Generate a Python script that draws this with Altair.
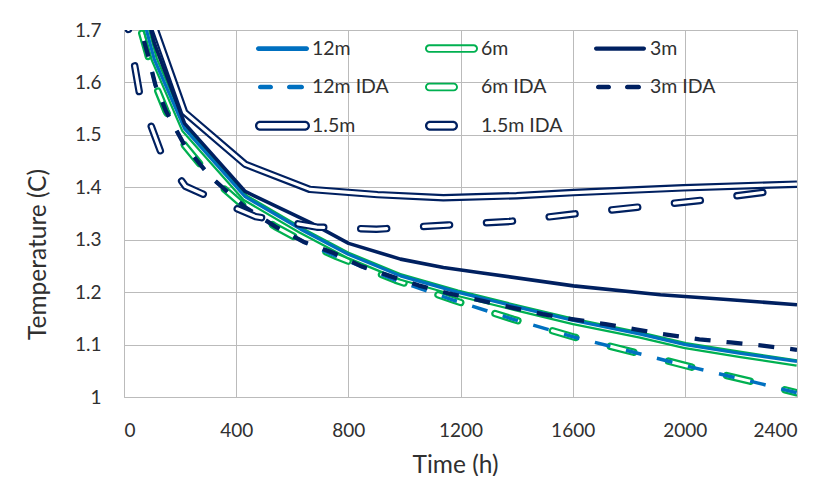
import altair as alt
import pandas as pd

# ---------------- data ----------------
series_names = ["12m", "6m", "3m", "12m IDA", "6m IDA", "3m IDA", "1.5m", "1.5m IDA"]
series_colors = ["#0070C0", "#00B050", "#002060", "#0070C0", "#00B050", "#002060", "#002060", "#002060"]

t_12m = [0, 108, 216, 432, 630, 800, 986, 1189, 1400, 1603, 1842, 2002, 2200, 2400]
v_12m = [1.86, 1.644, 1.512, 1.382, 1.320, 1.272, 1.231, 1.200, 1.172, 1.146, 1.120, 1.100, 1.083, 1.068]

t_6m = [0, 108, 216, 432, 630, 800, 986, 1189, 1400, 1603, 1842, 2002, 2200, 2400]
v_6m = [1.86, 1.644, 1.510, 1.380, 1.318, 1.270, 1.229, 1.198, 1.170, 1.144, 1.118, 1.098, 1.081, 1.065]

t_3m = [0, 108, 216, 432, 663, 801, 986, 1139, 1271, 1603, 1913, 2150, 2400]
v_3m = [1.91, 1.675, 1.522, 1.392, 1.333, 1.293, 1.263, 1.247, 1.237, 1.212, 1.195, 1.186, 1.176]

t_15m = [0, 216, 432, 663, 904, 1139, 1400, 1603, 1995, 2400]
v_15m = [1.87, 1.543, 1.444, 1.396, 1.386, 1.380, 1.384, 1.390, 1.399, 1.406]

t_12m_ida = [0, 30, 60, 84, 112, 150, 216, 308, 432, 540, 644, 758, 968, 1061, 1179, 1389, 1607, 1821, 2038, 2258, 2400]
v_12m_ida = [1.92, 1.80, 1.70, 1.655, 1.595, 1.545, 1.480, 1.420, 1.362, 1.325, 1.295, 1.268, 1.223, 1.206, 1.184, 1.148, 1.114, 1.085, 1.055, 1.027, 1.008]

t_6m_ida = [0, 30, 60, 84, 112, 150, 216, 308, 432, 540, 644, 758, 968, 1061, 1179, 1389, 1607, 1821, 2038, 2258, 2400]
v_6m_ida = [1.92, 1.80, 1.70, 1.655, 1.595, 1.545, 1.480, 1.420, 1.362, 1.325, 1.295, 1.268, 1.223, 1.206, 1.184, 1.148, 1.114, 1.085, 1.055, 1.027, 1.008]

t_3m_ida = [0, 30, 60, 84, 112, 150, 216, 308, 432, 540, 644, 750, 843, 947, 1050, 1161, 1282, 1378, 1492, 1603, 1717, 1824, 1920, 2052, 2163, 2277, 2400]
v_3m_ida = [1.92, 1.80, 1.70, 1.655, 1.595, 1.545, 1.480, 1.420, 1.362, 1.325, 1.295, 1.274, 1.250, 1.231, 1.213, 1.197, 1.183, 1.171, 1.158, 1.148, 1.139, 1.129, 1.120, 1.110, 1.104, 1.098, 1.090]

t_15m_ida = [0, 23, 57, 130, 219, 273, 469, 688, 900, 1154, 1378, 1603, 1831, 2056, 2277, 2400]
v_15m_ida = [1.75, 1.678, 1.574, 1.469, 1.402, 1.389, 1.344, 1.324, 1.320, 1.328, 1.335, 1.349, 1.362, 1.375, 1.390, 1.397]

x_ticks = [0, 400, 800, 1200, 1600, 2000, 2400]
y_ticks = [1.0, 1.1, 1.2, 1.3, 1.4, 1.5, 1.6, 1.7]

series_data = {
    "12m": (t_12m, v_12m),
    "6m": (t_6m, v_6m),
    "3m": (t_3m, v_3m),
    "12m IDA": (t_12m_ida, v_12m_ida),
    "6m IDA": (t_6m_ida, v_6m_ida),
    "3m IDA": (t_3m_ida, v_3m_ida),
    "1.5m": (t_15m, v_15m),
    "1.5m IDA": (t_15m_ida, v_15m_ida),
}
rows = []
for name, (ts, vs) in series_data.items():
    for t, v in zip(ts, vs):
        rows.append({"series": name, "time": t, "temp": v})
df = pd.DataFrame(rows)

# ---------------- legend symbol shapes (style only) ----------------
UNIT = 26.0  # half of symbol length in px


def _u(px):
    return round(px / UNIT - 1, 4)


def pill(x0, x1, h):
    r = round(h / UNIT, 4)
    a = round(_u(x0) + r, 4)
    b = round(_u(x1) - r, 4)
    return f"M{a},{-r}H{b}A{r},{r} 0 0 1 {b},{r}H{a}A{r},{r} 0 0 1 {a},{-r}Z"


def ring(x0, x1, h, t):
    r = round(h / UNIT, 4)
    ri = round((h - t) / UNIT, 4)
    a = round(_u(x0) + r, 4)
    b = round(_u(x1) - r, 4)
    outer = f"M{a},{-r}H{b}A{r},{r} 0 0 1 {b},{r}H{a}A{r},{r} 0 0 1 {a},{-r}Z"
    inner = f"M{a},{-ri}A{ri},{ri} 0 0 0 {a},{ri}H{b}A{ri},{ri} 0 0 0 {b},{-ri}Z"
    return outer + inner


shapes = {
    "12m": pill(0, 53, 2.4),
    "6m": ring(0, 53, 4.3, 1.9),
    "3m": pill(0, 52, 2.1),
    "12m IDA": pill(2, 17, 2.3) + pill(31, 48, 2.3),
    "6m IDA": ring(0, 33, 4.3, 1.9),
    "3m IDA": pill(2, 17, 2.3) + pill(31, 47, 2.3),
    "1.5m": ring(-1, 54, 5.0, 2.3),
    "1.5m IDA": ring(0, 33, 5.0, 2.3),
}
shape_expr = "'stroke'"
for name in reversed(series_names):
    shape_expr = f"datum.value === '{name}' ? '{shapes[name]}' : ({shape_expr})"

FONT = "Lato"
TXT = "#303030"
GRID = "#BBBBBB"

legend = alt.Legend(
    title=None,
    orient="none",
    direction="horizontal",
    legendX=132,
    legendY=-7.7,
    columns=3,
    gridAlign="all",
    columnPadding=31,
    rowPadding=2.7,
    padding=0,
    symbolSize=2704,
    symbolType={"expr": shape_expr},
    symbolFillColor={"expr": "scale('color', datum.value)"},
    symbolStrokeColor="transparent",
    symbolStrokeWidth=0,
    symbolOpacity=1,
    labelFont=FONT,
    labelFontSize=19.5,
    labelColor=TXT,
    labelOffset=4,
)

color_enc = alt.Color(
    "series:N",
    scale=alt.Scale(domain=series_names, range=series_colors),
    legend=legend,
)

x_enc = alt.X(
    "time:Q",
    scale=alt.Scale(domain=[0, 2400], nice=False),
    axis=alt.Axis(
        values=x_ticks, format="d", grid=True, gridColor=GRID, domain=False, ticks=False, tickSize=0,
        labelFont=FONT, labelFontSize=19, labelColor=TXT, labelPadding=24,
        title="Time (h)", titleFont=FONT, titleFontSize=24.5, titleFontWeight="normal", titleColor=TXT,
        titleX=331, titleY=68, titleBaseline="middle",
    ),
)
y_enc = alt.Y(
    "temp:Q",
    scale=alt.Scale(domain=[1.0, 1.7], nice=False, zero=False),
    axis=alt.Axis(
        values=y_ticks, format=".1~f", grid=True, gridColor=GRID, domain=False, ticks=False, tickSize=0,
        labelFont=FONT, labelFontSize=19, labelColor=TXT, labelPadding=23,
        title="Temperature (C)", titleFont=FONT, titleFontSize=24.5, titleFontWeight="normal", titleColor=TXT,
        titleX=-86, titleY=224, titleBaseline="middle",
    ),
)

base = alt.Chart(df)


def line(name, width, dash=None, cap="butt", white=False):
    props = dict(strokeWidth=width, strokeCap=cap, clip=True, strokeJoin="round")
    if dash:
        props["strokeDash"] = dash
    enc = dict(x=x_enc, y=y_enc, color=alt.value("white") if white else color_enc)
    return base.transform_filter(alt.datum.series == name).mark_line(**props).encode(**enc)


layers = [
    line("6m IDA", 7.5, [24, 36], "round"),
    line("6m IDA", 3, [24, 36], "round", white=True),
    line("6m", 7.5),
    line("6m", 3, white=True),
    line("12m", 3.2),
    line("12m IDA", 3.5, [16, 16]),
    line("3m", 3.6),
    line("3m IDA", 4.3, [16, 16]),
    line("1.5m", 7.5),
    line("1.5m", 3.2, white=True),
    line("1.5m IDA", 7.5, [26, 37], "round"),
    line("1.5m IDA", 3.2, [26, 37], "round", white=True),
]

chart = alt.layer(*layers).properties(
    width=673,
    height=367,
    autosize=alt.AutoSizeParams(type="none"),
    padding={"left": 116, "top": 22, "right": 16, "bottom": 79},
    background="white",
).configure_view(stroke=GRID, strokeWidth=1)

chart.save("out.html", embed_options={"renderer": "svg", "actions": False})
